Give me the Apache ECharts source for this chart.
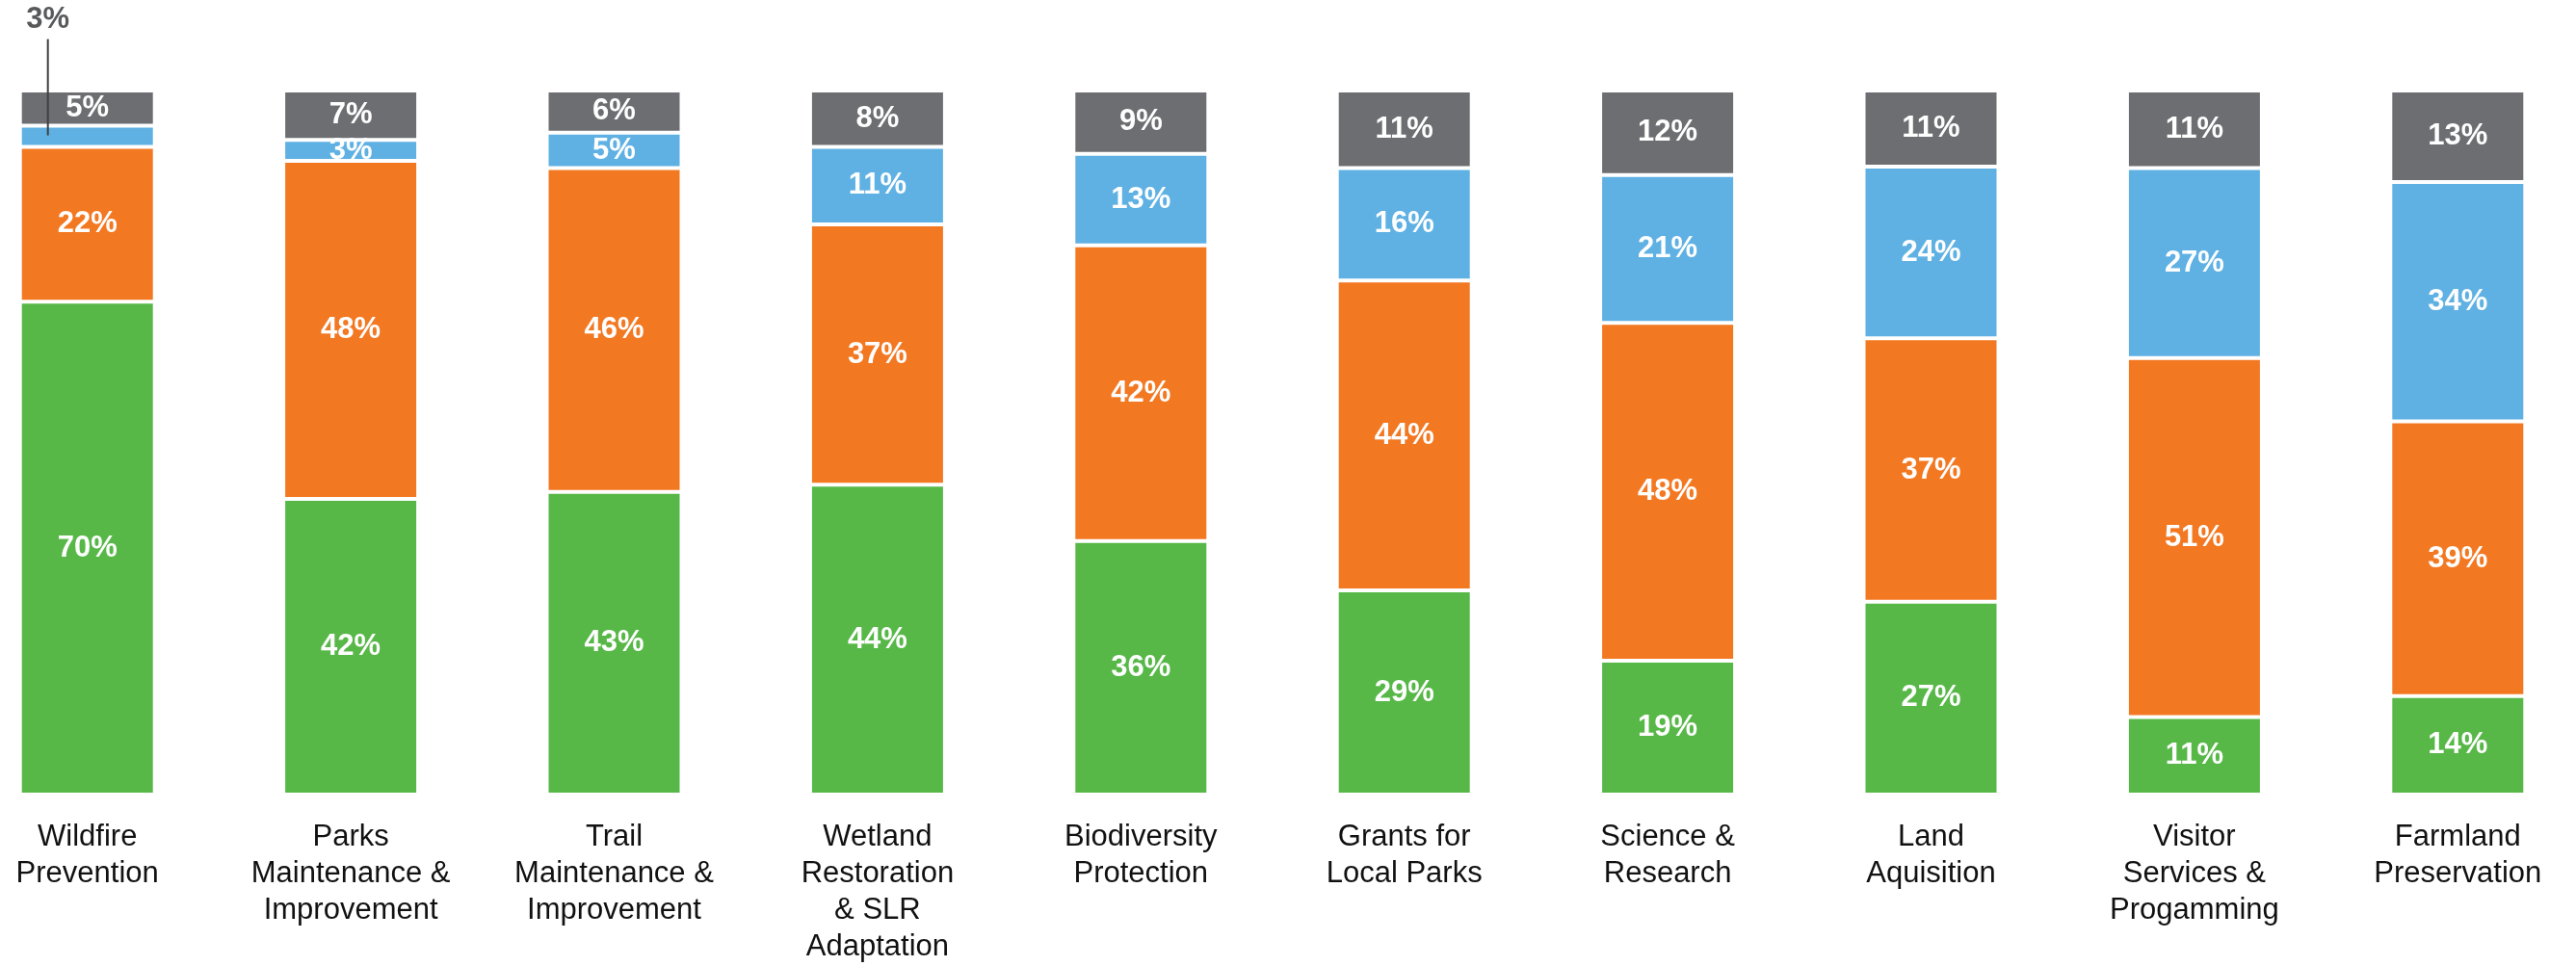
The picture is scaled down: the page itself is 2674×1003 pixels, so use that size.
<!DOCTYPE html>
<html>
<head>
<meta charset="utf-8">
<script src="https://cdn.jsdelivr.net/npm/echarts@6/dist/echarts.min.js"></script>
<style>
  html, body { margin: 0; padding: 0; background: #ffffff; }
  #chart { width: 2674px; height: 1003px; }
</style>
</head>
<body>
<div id="chart"></div>
<script>
const categories = [
  'Wildfire\nPrevention',
  'Parks\nMaintenance &\nImprovement',
  'Trail\nMaintenance &\nImprovement',
  'Wetland\nRestoration\n& SLR\nAdaptation',
  'Biodiversity\nProtection',
  'Grants for\nLocal Parks',
  'Science &\nResearch',
  'Land\nAquisition',
  'Visitor\nServices &\nProgamming',
  'Farmland\nPreservation'
];
const greenValues  = [70, 42, 43, 44, 36, 29, 19, 27.4, 11, 14];
const orangeValues = [22, 48, 46, 37, 42, 44, 48, 37.4, 51, 39];
const blueValues   = [3, 3, 5, 11, 13, 16, 21, 24.4, 27, 34];
const grayValues   = [5, 7, 6, 8, 9, 11, 12, 10.8, 11, 13];

const COLORS = { green: '#57B848', orange: '#F37822', blue: '#5FB1E3', gray: '#6D6E71' };

const valueLabel = {
  show: true,
  position: 'inside',
  color: '#ffffff',
  fontFamily: 'Liberation Sans, Arial, sans-serif',
  fontWeight: 'bold',
  fontSize: 31,
  formatter: p => Math.round(p.value) + '%'
};

function makeSeries(name, values, color, specialFirst) {
  const data = values.map((v, i) => {
    if (specialFirst && i === 0) {
      return {
        value: v,
        label: {
          show: true,
          position: [29, -130],
          align: 'center',
          verticalAlign: 'top',
          formatter: '{v|' + Math.round(v) + '%}\n{l|}',
          rich: {
            v: {
              color: '#58595B',
              fontFamily: 'Liberation Sans, Arial, sans-serif',
              fontWeight: 'bold',
              fontSize: 31,
              lineHeight: 40,
              align: 'center'
            },
            l: {
              width: 2,
              height: 100,
              lineHeight: 100,
              backgroundColor: '#404040',
              align: 'center'
            }
          }
        }
      };
    }
    return v;
  });
  return {
    name: name,
    type: 'bar',
    stack: 'total',
    barWidth: 140,
    data: data,
    itemStyle: { color: color, borderColor: '#ffffff', borderWidth: 2 },
    label: valueLabel,
    emphasis: { disabled: true },
    z: 2
  };
}

const chart = echarts.init(document.getElementById('chart'), null, { renderer: 'canvas' });
chart.setOption({
  animation: false,
  backgroundColor: '#ffffff',
  grid: { left: -46, right: -14, top: 94, bottom: 178, containLabel: false, outerBoundsMode: 'none' },
  xAxis: {
    type: 'category',
    data: categories,
    axisLine: { show: false },
    axisTick: { show: false },
    axisLabel: {
      interval: 0,
      margin: 25,
      color: '#111111',
      fontFamily: 'Liberation Sans, Arial, sans-serif',
      fontSize: 31,
      lineHeight: 38,
      align: 'center'
    }
  },
  yAxis: {
    type: 'value',
    min: 0,
    max: 100,
    show: false,
    splitLine: { show: false }
  },
  series: [
    makeSeries('green', greenValues, COLORS.green, false),
    makeSeries('orange', orangeValues, COLORS.orange, false),
    makeSeries('blue', blueValues, COLORS.blue, true),
    makeSeries('gray', grayValues, COLORS.gray, false)
  ]
});
</script>
</body>
</html>
